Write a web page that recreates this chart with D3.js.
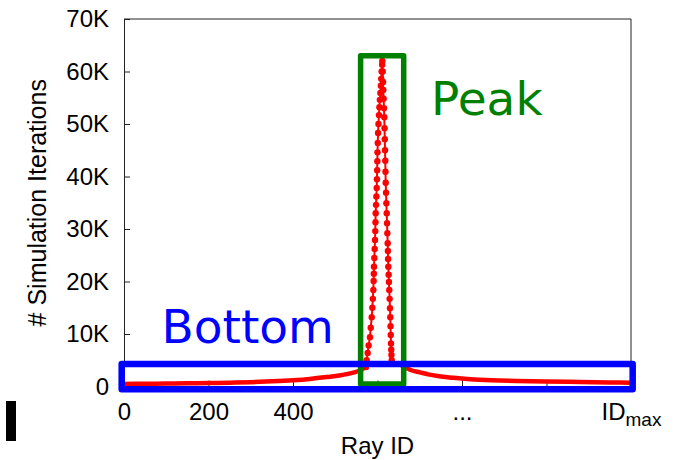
<!DOCTYPE html>
<html>
<head>
<meta charset="utf-8">
<script src="https://cdnjs.cloudflare.com/ajax/libs/d3/7.8.5/d3.min.js"></script>
<style>
  body { margin: 0; background: #fff; }
  .axis text { font-family: "Liberation Sans", Arial, sans-serif; font-size: 24px; fill: #000; }
  .axis path, .axis line { stroke: #222; stroke-width: 1; }
  .title { font-family: "Liberation Sans", Arial, sans-serif; fill: #000; }
  .note { font-family: "DejaVu Sans", Verdana, sans-serif; }
</style>
</head>
<body>
<div id="chart"></div>
<script>

// data (ray id, iterations)

var leftTailIds  = [0, 50, 100, 150, 200, 250, 300, 350, 400, 440, 480, 510, 530, 545, 555, 562, 567, 572.8];
var leftTailVals = [500, 520, 550, 600, 650, 720, 820, 980, 1200, 1450, 1800, 2100, 2400, 2700, 2950, 3200, 3450, 3700];

var peakIds = [572.8, 574.5, 576.8, 579, 582.2, 584, 586.3, 587.8, 589, 590.1, 590.8, 591.3, 591.7, 592.5, 593.3,
  594.1, 594.7, 595.2, 595.7, 596.5, 597.3, 598.1, 598.7, 599.2, 599.6, 600, 600.6, 601.3, 602.3, 603.4,
  604.5, 605.6, 606.8, 607.9, 608.8, 609.8, 611, 611.4,
  612.3, 613.2, 613.7, 614.5, 615.3, 616.1, 616.7, 617.3, 617.8, 618.4, 618.9, 619.4, 620.2, 621, 621.8,
  622.6, 623.3, 624.1, 624.6, 625.1, 625.6, 626.4, 627.1, 627.9, 628.7, 629.5, 630.3, 630.9, 631.4, 632,
  632.5, 633, 633.6, 634.2];
var peakVals = [3700, 5000, 6400, 7800, 9400, 11200, 13200, 15000, 16700, 18400, 20100, 21500, 22800, 24500, 26200,
  27900, 29600, 31300, 33000, 34600, 36200, 37800, 39500, 41200, 42900, 44600, 46400, 48300, 50000, 51700,
  53200, 54600, 55900, 57300, 58600, 60000, 61300, 62000,
  60000, 58000, 56500, 54800, 53000, 51300, 49200, 47100, 45000, 43000, 40900, 38800, 36900, 34900, 33000,
  31100, 29200, 27300, 25800, 24300, 22800, 21300, 19900, 18400, 16700, 14900, 13200, 11500, 9800, 8200,
  7000, 6000, 5000, 4400];

var rightTailIds  = [634.2, 645, 655, 665, 680, 700, 720, 750, 780, 820, 870, 930, 1000, 1080, 1150, 1200];
var rightTailVals = [4400, 4300, 4100, 3700, 3100, 2700, 2300, 1900, 1650, 1400, 1200, 1050, 950, 850, 780, 720];

// axis ticks and labels
var xTicks = [0, 200, 400, 600, 800, 1000, 1200];
var xTickLabels = ["0", "200", "400", "", "...", "", "ID"];
var yTicks = [0, 10000, 20000, 30000, 40000, 50000, 60000, 70000];
var yTickLabels = ["0", "10K", "20K", "30K", "40K", "50K", "60K", "70K"];

// boxes drawn over the chart: [id0, id1, val0, val1]
var peakBox = [560, 662, 500, 63000];
var bottomBox = [-5.5, 1204, -500, 4300];

// SVG attributes
var totalWidth = 673;
var height = 460;
var margin = {left: 124, right: 42, top: 19, bottom: 73.5};
var width = totalWidth - margin.left - margin.right;
var plotH = height - margin.top - margin.bottom;

var svg = d3.select("#chart").append("svg")
    .attr("width", totalWidth)
    .attr("height", height);

var xScale = d3.scaleLinear().domain([0, 1200]).range([margin.left, margin.left + width]);
var yScale = d3.scaleLinear().domain([0, 70000]).range([margin.top + plotH, margin.top]);

// axes with inward ticks
var xAxis = d3.axisBottom(xScale).tickValues(xTicks)
    .tickFormat(function(d, i) { return xTickLabels[i]; })
    .tickSizeInner(-6).tickSizeOuter(0).tickPadding(16);
var gx = svg.append("g")
    .attr("class", "axis")
    .attr("transform", "translate(0," + yScale(0) + ")")
    .call(xAxis);

// ID with subscript max
gx.selectAll(".tick text").filter(function(d) { return d == 1200; })
    .append("tspan").attr("font-size", "19px").attr("dy", "6").text("max");

var yAxis = d3.axisLeft(yScale).tickValues(yTicks)
    .tickFormat(function(d, i) { return yTickLabels[i]; })
    .tickSizeInner(-6).tickSizeOuter(0).tickPadding(15);
svg.append("g")
    .attr("class", "axis")
    .attr("transform", "translate(" + xScale(0) + ",0)")
    .call(yAxis);

// top and right border
svg.append("path")
    .attr("d", "M" + xScale(0) + "," + yScale(70000) + "H" + xScale(1200) + "V" + yScale(0))
    .attr("fill", "none")
    .attr("stroke", "#222")
    .attr("stroke-width", 1);

// axis titles
svg.append("text")
    .attr("class", "title")
    .attr("x", (xScale(0) + xScale(1200)) / 2)
    .attr("y", 454)
    .attr("text-anchor", "middle")
    .attr("font-size", "24px")
    .text("Ray ID");

svg.append("text")
    .attr("class", "title")
    .attr("transform", "translate(46," + (yScale(0) + yScale(70000)) / 2 + ") rotate(-90)")
    .attr("text-anchor", "middle")
    .attr("font-size", "25px")
    .text("# Simulation Iterations");

// the curve
var line = d3.line()
    .x(function(d) { return xScale(d[0]); })
    .y(function(d) { return yScale(d[1]); });

var leftTail = leftTailIds.map(function(id, i) { return [id, leftTailVals[i]]; });
var rightTail = rightTailIds.map(function(id, i) { return [id, rightTailVals[i]]; });
var peak = peakIds.map(function(id, i) { return [id, peakVals[i]]; });

[leftTail, rightTail].forEach(function(tail) {
  svg.append("path")
      .attr("d", line.curve(d3.curveMonotoneX)(tail))
      .attr("fill", "none")
      .attr("stroke", "#ff0000")
      .attr("stroke-width", 4.5)
      .attr("stroke-linecap", "round")
      .attr("stroke-linejoin", "round");
});

svg.append("path")
    .attr("d", line.curve(d3.curveLinear)(peak))
    .attr("fill", "none")
    .attr("stroke", "#ff0000")
    .attr("stroke-width", 2)
    .attr("stroke-linejoin", "round");

svg.selectAll(".dot")
    .data(peak)
    .enter().append("circle")
    .attr("class", "dot")
    .attr("cx", function(d) { return xScale(d[0]); })
    .attr("cy", function(d) { return yScale(d[1]); })
    .attr("r", 3.2)
    .attr("fill", "#ff0000");

// annotation boxes
function box(b, color, sw) {
  svg.append("rect")
      .attr("x", xScale(b[0]))
      .attr("y", yScale(b[3]))
      .attr("width", xScale(b[1]) - xScale(b[0]))
      .attr("height", yScale(b[2]) - yScale(b[3]))
      .attr("fill", "none")
      .attr("stroke", color)
      .attr("stroke-width", sw)
      .attr("stroke-linejoin", "round");
}
box(peakBox, "#008000", 5.5);
box(bottomBox, "#0000ff", 6.5);

svg.append("text")
    .attr("class", "note")
    .attr("x", 431)
    .attr("y", 115)
    .attr("font-size", "47px")
    .attr("fill", "#008000")
    .text("Peak");

svg.append("text")
    .attr("class", "note")
    .attr("x", 161.5)
    .attr("y", 343)
    .attr("font-size", "47px")
    .attr("fill", "#0000ff")
    .text("Bottom");

// black marker at the left edge
svg.append("rect")
    .attr("x", 6)
    .attr("y", 401)
    .attr("width", 10)
    .attr("height", 40)
    .attr("fill", "#000");

</script>
</body>
</html>
